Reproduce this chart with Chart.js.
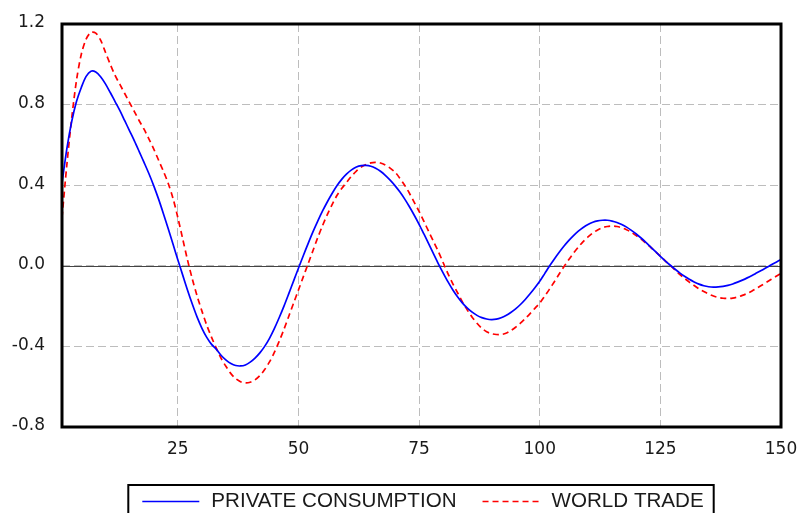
<!DOCTYPE html>
<html>
<head>
<meta charset="utf-8">
<script src="https://cdn.jsdelivr.net/npm/chart.js@4"></script>
<style>
html, body { margin: 0; padding: 0; background: #fff; overflow: hidden; }
#wrap { width: 798px; height: 513px; }
</style>
</head>
<body>
<div id="wrap"><canvas id="responseChart" width="798" height="513"></canvas></div>
<script>
/* ===============================
IMPULSE RESPONSE - DATA
=============================== */

// periods 1..150 on the x axis
const periods = Array.from({ length: 150 }, (_, i) => i + 1)

const xTicks = [25, 50, 75, 100, 125, 150]
const yTicks = [-0.8, -0.4, 0.0, 0.4, 0.8, 1.2]

// values, one per period
const privateConsumption = [
0.41,0.58,0.715,0.815,0.885,0.94,0.966,0.962,0.938,0.903,
0.86,0.815,0.77,0.72,0.67,0.62,0.567,0.513,0.458,0.398,
0.332,0.26,0.185,0.108,0.03,-0.045,-0.12,-0.19,-0.255,-0.31,
-0.355,-0.39,-0.415,-0.445,-0.468,-0.485,-0.495,-0.497,-0.492,-0.478,
-0.458,-0.432,-0.40,-0.36,-0.312,-0.258,-0.2,-0.138,-0.075,-0.012,
0.05,0.11,0.168,0.222,0.272,0.318,0.36,0.398,0.43,0.456,
0.476,0.49,0.497,0.498,0.494,0.484,0.469,0.449,0.425,0.398,
0.367,0.332,0.293,0.251,0.206,0.158,0.109,0.059,0.01,-0.036,
-0.08,-0.12,-0.155,-0.185,-0.21,-0.23,-0.246,-0.257,-0.264,-0.267,
-0.265,-0.258,-0.247,-0.232,-0.214,-0.192,-0.167,-0.139,-0.109,-0.077,
-0.04,-0.002,0.033,0.066,0.097,0.125,0.15,0.172,0.19,0.205,
0.216,0.223,0.226,0.226,0.222,0.215,0.205,0.192,0.176,0.158,
0.138,0.116,0.093,0.07,0.047,0.025,0.004,-0.016,-0.035,-0.052,
-0.067,-0.08,-0.091,-0.099,-0.104,-0.106,-0.105,-0.102,-0.097,-0.09,
-0.081,-0.071,-0.06,-0.048,-0.035,-0.022,-0.009,0.005,0.018,0.031
]

const worldTrade = [
0.24,0.50,0.73,0.92,1.05,1.125,1.158,1.155,1.12,1.06,
1.0,0.945,0.9,0.855,0.81,0.765,0.72,0.678,0.63,0.58,
0.525,0.47,0.41,0.335,0.24,0.135,0.03,-0.065,-0.15,-0.225,
-0.295,-0.355,-0.41,-0.46,-0.5,-0.535,-0.56,-0.575,-0.581,-0.578,
-0.566,-0.545,-0.515,-0.477,-0.43,-0.375,-0.315,-0.25,-0.185,-0.12,
-0.055,0.01,0.075,0.14,0.2,0.255,0.305,0.35,0.385,0.415,
0.445,0.47,0.49,0.503,0.511,0.513,0.51,0.5,0.485,0.465,
0.435,0.4,0.36,0.315,0.27,0.22,0.17,0.12,0.07,0.015,
-0.04,-0.09,-0.135,-0.18,-0.22,-0.255,-0.285,-0.31,-0.327,-0.337,
-0.341,-0.341,-0.335,-0.322,-0.305,-0.285,-0.262,-0.237,-0.211,-0.185,
-0.152,-0.117,-0.08,-0.042,-0.005,0.03,0.063,0.093,0.12,0.143,
0.163,0.178,0.189,0.195,0.197,0.195,0.189,0.179,0.166,0.15,
0.132,0.112,0.092,0.07,0.048,0.025,0.003,-0.02,-0.042,-0.062,
-0.081,-0.098,-0.114,-0.128,-0.14,-0.15,-0.157,-0.161,-0.162,-0.16,
-0.155,-0.147,-0.137,-0.125,-0.111,-0.097,-0.082,-0.067,-0.052,-0.038
]

/* ===============================
PLUGINS: zero line, frame, boxed legend
=============================== */

const zeroLine = {
  id: 'zeroLine',
  beforeDatasetsDraw(chart) {
    const { ctx, chartArea, scales } = chart
    const y = Math.round(scales.y.getPixelForValue(0)) + 0.5
    ctx.save()
    ctx.strokeStyle = '#444'
    ctx.lineWidth = 1
    ctx.beginPath()
    ctx.moveTo(chartArea.left, y)
    ctx.lineTo(chartArea.right, y)
    ctx.stroke()
    ctx.restore()
  }
}

const frame = {
  id: 'frame',
  afterDatasetsDraw(chart) {
    const { ctx, chartArea } = chart
    ctx.save()
    ctx.strokeStyle = '#000'
    ctx.lineWidth = 3
    ctx.strokeRect(chartArea.left, chartArea.top, chartArea.right - chartArea.left, chartArea.bottom - chartArea.top)
    ctx.restore()
  }
}

const boxedLegend = {
  id: 'boxedLegend',
  afterDraw(chart) {
    const { ctx, chartArea } = chart
    const sample = 57, gap = 12, itemGap = 26
    const y = 501
    ctx.save()
    ctx.font = '20.6px "Liberation Sans", Arial, sans-serif'
    const sets = chart.data.datasets
    const widths = sets.map(d => ctx.measureText(d.label).width)
    const total = widths.reduce((a, w) => a + sample + gap + w, 0) + itemGap * (sets.length - 1)
    let x = (chartArea.left + chartArea.right) / 2 + 1.5 - total / 2

    ctx.strokeStyle = '#000'
    ctx.lineWidth = 2
    ctx.strokeRect(x - 14, 485, total + 24, 40)

    sets.forEach((d, i) => {
      ctx.strokeStyle = d.borderColor
      ctx.lineWidth = 1.5
      ctx.setLineDash(d.borderDash || [])
      ctx.beginPath()
      ctx.moveTo(x, y + 0.5)
      ctx.lineTo(x + sample, y + 0.5)
      ctx.stroke()
      ctx.setLineDash([])
      ctx.fillStyle = '#1a1a1a'
      ctx.textBaseline = 'middle'
      ctx.fillText(d.label, x + sample + gap, y)
      x += sample + gap + widths[i] + itemGap
    })
    ctx.restore()
  }
}

/* ===============================
CHART
=============================== */

const tickFont = { family: '"DejaVu Sans", Verdana, sans-serif', size: 17 }

new Chart(document.getElementById('responseChart'), {
  type: 'line',
  data: {
    labels: periods,
    datasets: [
      {
        label: 'PRIVATE CONSUMPTION',
        data: privateConsumption,
        borderColor: '#0000ff',
        borderWidth: 1.7,
        pointRadius: 0,
        tension: 0.3
      },
      {
        label: 'WORLD TRADE',
        data: worldTrade,
        borderColor: '#ff0000',
        borderWidth: 1.7,
        borderDash: [6, 4],
        pointRadius: 0,
        tension: 0.3
      }
    ]
  },
  options: {
    responsive: false,
    animation: false,
    devicePixelRatio: 1,
    layout: { padding: { top: 24, right: 17, left: 0, bottom: 0 } },
    plugins: {
      legend: { display: false },
      tooltip: { enabled: false }
    },
    scales: {
      x: {
        type: 'linear',
        min: 1,
        max: 150,
        afterBuildTicks: s => { s.ticks = xTicks.map(v => ({ value: v })) },
        afterFit: s => { s.height = 86; s.paddingLeft = 0; s.paddingRight = 0 },
        grid: { color: '#bdbdbd', lineWidth: 1, drawTicks: false },
        border: { display: false, dash: [8, 4] },
        ticks: { padding: 12, maxRotation: 0, font: tickFont, color: '#1a1a1a' }
      },
      y: {
        min: -0.8,
        max: 1.2,
        afterBuildTicks: s => { s.ticks = yTicks.map(v => ({ value: v })) },
        afterFit: s => { s.width = 62; s.paddingTop = 0; s.paddingBottom = 0 },
        grid: { color: '#bdbdbd', lineWidth: 1, drawTicks: false },
        border: { display: false, dash: [8, 4] },
        ticks: {
          padding: 17,
          labelOffset: -1,
          font: tickFont,
          color: '#1a1a1a',
          callback: v => v.toFixed(1)
        }
      }
    }
  },
  plugins: [zeroLine, frame, boxedLegend]
})
</script>
</body>
</html>
